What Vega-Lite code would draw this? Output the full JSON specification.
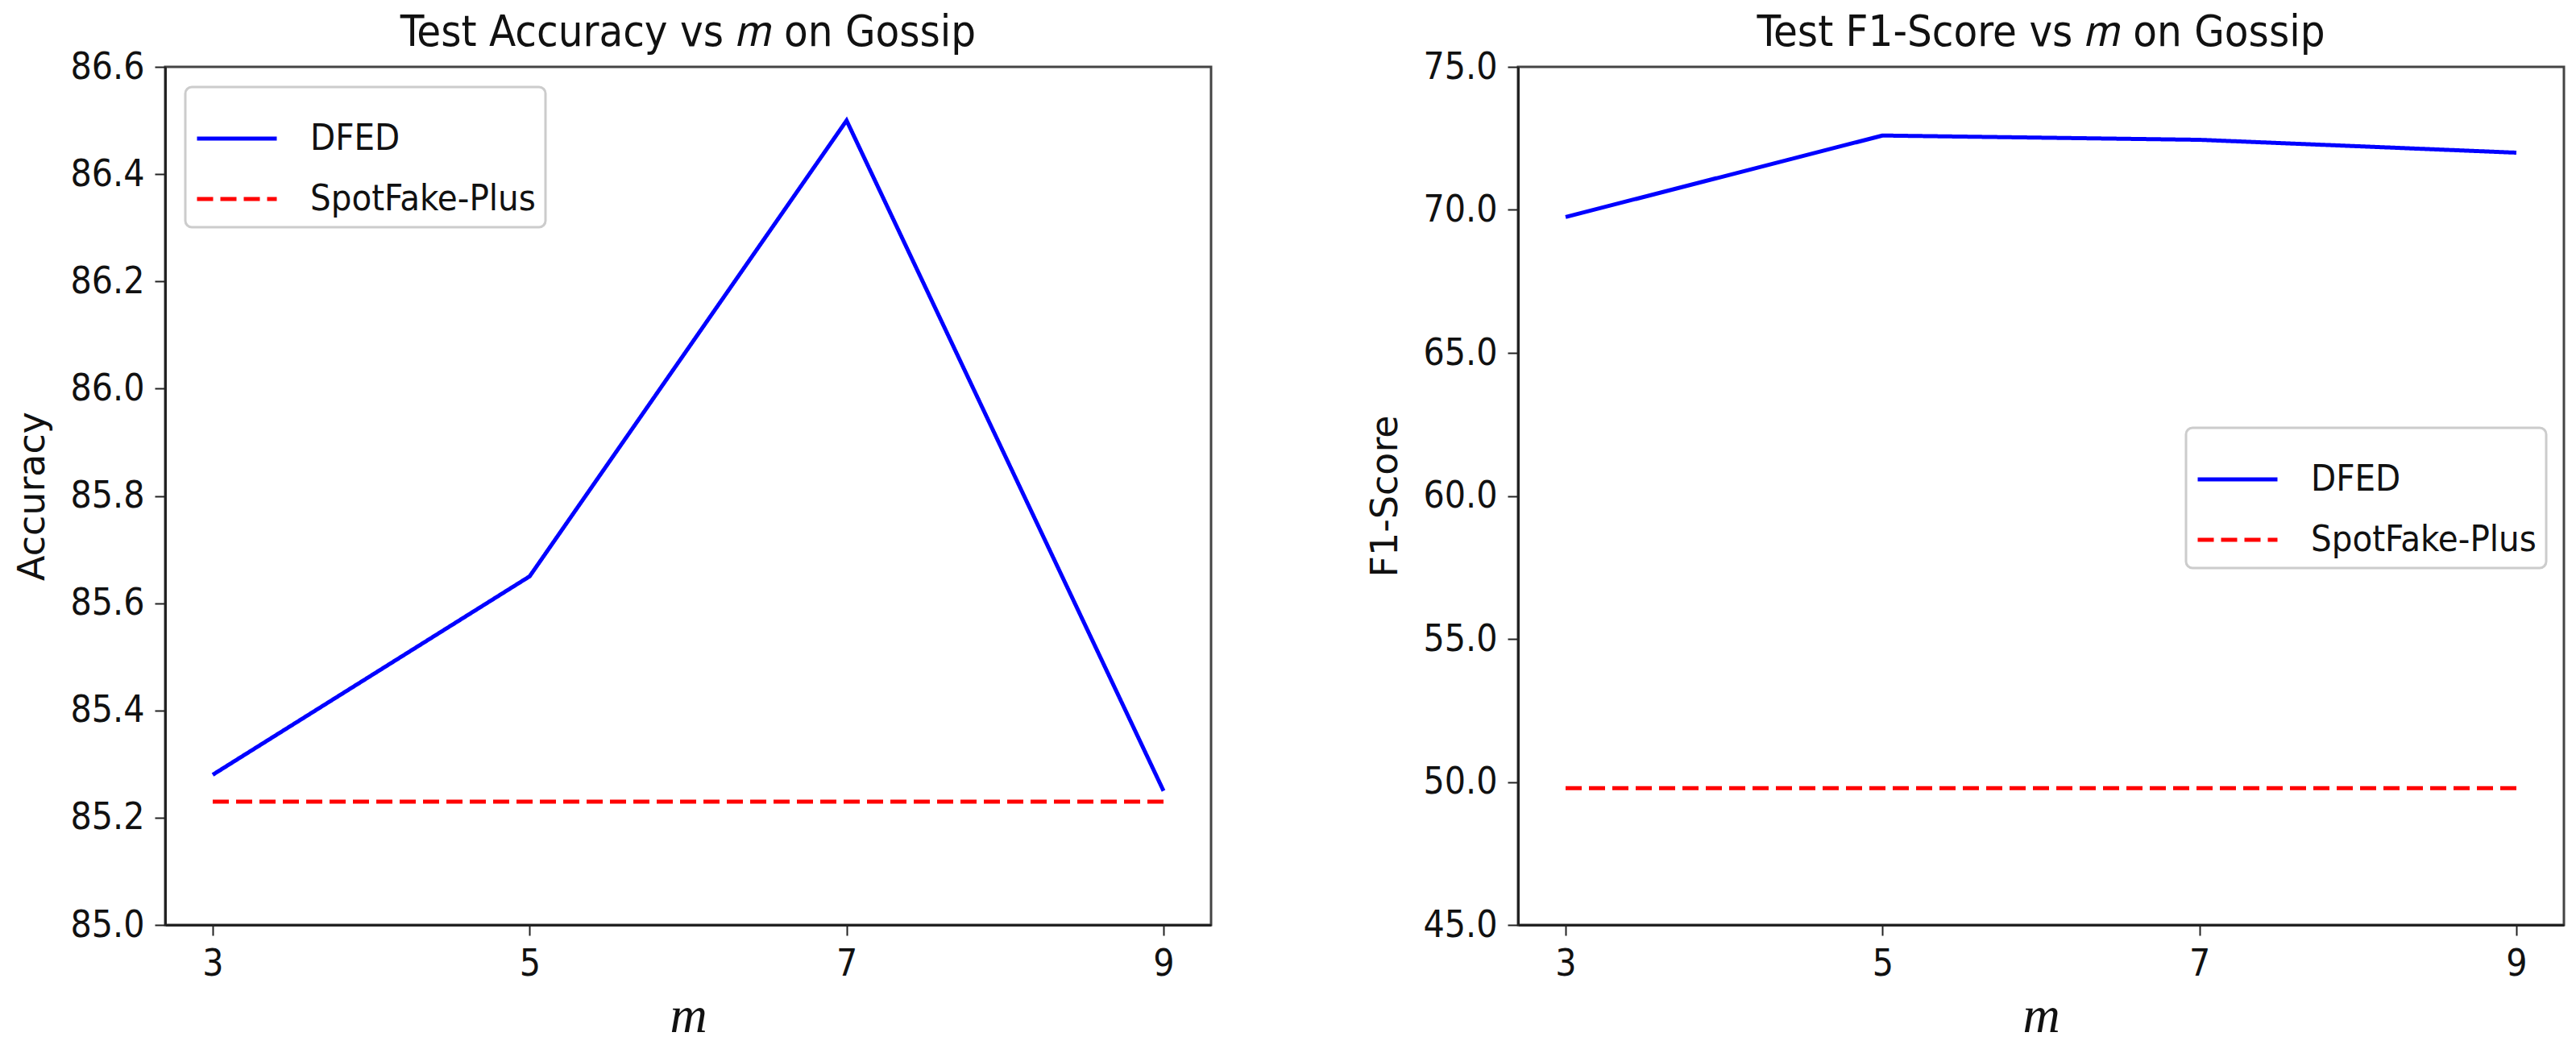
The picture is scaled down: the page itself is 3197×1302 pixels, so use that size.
{
  "$schema": "https://vega.github.io/schema/vega-lite/v6.json",
  "background": "white",
  "padding": {"left": 16, "top": 12, "right": 10, "bottom": 0},
  "autosize": {"type": "pad"},
  "datasets": {
    "acc": [
      {"m": 3, "series": "DFED", "value": 85.28},
      {"m": 5, "series": "DFED", "value": 85.65},
      {"m": 7, "series": "DFED", "value": 86.5},
      {"m": 9, "series": "DFED", "value": 85.25},
      {"m": 3, "series": "SpotFake-Plus", "value": 85.23},
      {"m": 5, "series": "SpotFake-Plus", "value": 85.23},
      {"m": 7, "series": "SpotFake-Plus", "value": 85.23},
      {"m": 9, "series": "SpotFake-Plus", "value": 85.23}
    ],
    "f1": [
      {"m": 3, "series": "DFED", "value": 69.75},
      {"m": 5, "series": "DFED", "value": 72.6},
      {"m": 7, "series": "DFED", "value": 72.45},
      {"m": 9, "series": "DFED", "value": 72.0},
      {"m": 3, "series": "SpotFake-Plus", "value": 49.78},
      {"m": 5, "series": "SpotFake-Plus", "value": 49.78},
      {"m": 7, "series": "SpotFake-Plus", "value": 49.78},
      {"m": 9, "series": "SpotFake-Plus", "value": 49.78}
    ]
  },
  "spacing": 190,
  "hconcat": [
    {
      "width": 1298,
      "height": 1065,
      "data": {"name": "acc"},
      "title": {"text": "Test Accuracy vs 𝑚 on Gossip"},
      "mark": {"type": "line", "strokeWidth": 5, "clip": true},
      "encoding": {
        "x": {
          "field": "m", "type": "quantitative",
          "scale": {"domain": [2.7, 9.3], "nice": false, "zero": false},
          "axis": {"values": [3, 5, 7, 9], "format": "d", "title": "m"}
        },
        "y": {
          "field": "value", "type": "quantitative",
          "scale": {"domain": [85, 86.6], "nice": false, "zero": false},
          "axis": {"values": [85, 85.2, 85.4, 85.6, 85.8, 86, 86.2, 86.4, 86.6], "format": ".1f", "title": "Accuracy"}
        },
        "color": {
          "field": "series", "type": "nominal",
          "scale": {"domain": ["DFED", "SpotFake-Plus"], "range": ["#0000ff", "#ff0000"]},
          "legend": {"orient": "none", "legendX": 25, "legendY": 25, "title": null}
        },
        "strokeDash": {
          "field": "series", "type": "nominal",
          "scale": {"domain": ["DFED", "SpotFake-Plus"], "range": [[1, 0], [20, 9]]},
          "legend": {"orient": "none", "legendX": 25, "legendY": 25, "title": null}
        }
      }
    },
    {
      "width": 1298,
      "height": 1065,
      "data": {"name": "f1"},
      "title": {"text": "Test F1-Score vs 𝑚 on Gossip"},
      "mark": {"type": "line", "strokeWidth": 5, "clip": true},
      "encoding": {
        "x": {
          "field": "m", "type": "quantitative",
          "scale": {"domain": [2.7, 9.3], "nice": false, "zero": false},
          "axis": {"values": [3, 5, 7, 9], "format": "d", "title": "m"}
        },
        "y": {
          "field": "value", "type": "quantitative",
          "scale": {"domain": [45, 75], "nice": false, "zero": false},
          "axis": {"values": [45, 50, 55, 60, 65, 70, 75], "format": ".1f", "title": "F1-Score"}
        },
        "color": {
          "field": "series", "type": "nominal",
          "scale": {"domain": ["DFED", "SpotFake-Plus"], "range": ["#0000ff", "#ff0000"]},
          "legend": {"orient": "none", "legendX": 829, "legendY": 448, "title": null}
        },
        "strokeDash": {
          "field": "series", "type": "nominal",
          "scale": {"domain": ["DFED", "SpotFake-Plus"], "range": [[1, 0], [20, 9]]},
          "legend": {"orient": "none", "legendX": 829, "legendY": 448, "title": null}
        }
      }
    }
  ],
  "resolve": {
    "scale": {"x": "independent", "y": "independent", "color": "independent", "strokeDash": "independent"},
    "legend": {"color": "independent", "strokeDash": "independent"}
  },
  "config": {
    "view": {"stroke": "#444444", "strokeWidth": 3},
    "title": {"font": "DejaVu Sans Condensed, DejaVu Sans", "fontSize": 54, "fontWeight": "normal", "color": "#111111", "offset": -8, "anchor": "middle"},
    "axis": {
      "grid": false,
      "domain": true, "domainColor": "#222222", "domainWidth": 3,
      "tickColor": "#222222", "tickWidth": 2, "tickSize": 13,
      "labelFont": "DejaVu Sans Condensed, DejaVu Sans", "labelFontSize": 46, "labelColor": "#111111", "labelPadding": 13,
      "titleColor": "#111111", "titleFontWeight": "normal"
    },
    "axisX": {"titleFont": "Liberation Serif", "titleFontStyle": "italic", "titleFontSize": 64, "titlePadding": 10, "labelFlush": false},
    "axisY": {"titleFont": "DejaVu Sans", "titleFontSize": 46, "titlePadding": 22},
    "legend": {
      "fillColor": "white", "strokeColor": "#cccccc", "strokeWidth": 3, "cornerRadius": 8, "padding": 12,
      "labelFont": "DejaVu Sans Condensed, DejaVu Sans", "labelFontSize": 45, "labelColor": "#111111", "labelLimit": 0,
      "symbolType": "stroke", "symbolStrokeWidth": 5, "symbolSize": 9800, "labelOffset": 39, "rowPadding": -4
    }
  }
}
